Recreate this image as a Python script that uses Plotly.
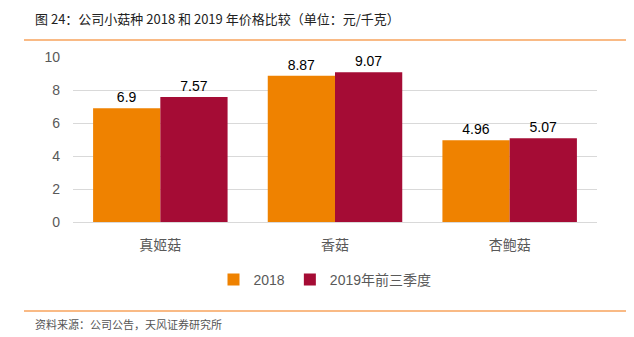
import plotly.graph_objects as go

categories = ["真姬菇", "香菇", "杏鲍菇"]
series_names = ["2018", "2019年前三季度"]
values_2018 = [6.9, 8.87, 4.96]
values_2019 = [7.57, 9.07, 5.07]
label_2018 = ["6.9", "8.87", "4.96"]
label_2019 = ["7.57", "9.07", "5.07"]
y_ticks = [0, 2, 4, 6, 8, 10]

FONT = "Liberation Sans, Arial, Noto Sans CJK SC, sans-serif"
CJK = "Noto Sans CJK SC, Liberation Sans, sans-serif"

fig = go.Figure()
fig.add_trace(go.Bar(name=series_names[0], x=categories, y=values_2018,
                     marker=dict(color="#EF8200", line=dict(width=0)),
                     text=label_2018, textposition="outside", cliponaxis=False,
                     textfont=dict(size=14, color="#000000", family=FONT)))
fig.add_trace(go.Bar(name=series_names[1], x=categories, y=values_2019,
                     marker=dict(color="#A50C35", line=dict(width=0)),
                     text=label_2019, textposition="outside", cliponaxis=False,
                     textfont=dict(size=14, color="#000000", family=FONT)))

L, R, T, B = 73, 37, 57, 115
W, H = 634, 337
pw, ph = W - L - R, H - T - B

def px(x):
    return (x - L) / pw

def py(y):
    return (H - B - y) / ph

fig.update_layout(
    width=W, height=H,
    margin=dict(l=L, r=R, t=T, b=B, pad=0),
    paper_bgcolor="white", plot_bgcolor="white",
    barmode="group", bargap=0.23, bargroupgap=0,
    font=dict(family=FONT, size=14, color="#595959"),
    showlegend=True,
    legend=dict(orientation="h", x=px(325), xanchor="center", y=py(280), yanchor="middle",
                font=dict(size=14, color="#595959", family=FONT),
                itemwidth=30, traceorder="normal", bgcolor="rgba(0,0,0,0)"),
    xaxis=dict(showgrid=False, showline=True, linecolor="#D9D9D9", linewidth=1,
               ticks="", tickfont=dict(size=14, color="#595959", family=CJK),
               ticklabelstandoff=10),
    yaxis=dict(range=[0, 10], tickvals=y_ticks, showgrid=True, gridcolor="#D9D9D9",
               gridwidth=1, zeroline=False, showline=False, ticks="",
               tickfont=dict(size=14, color="#595959", family=FONT),
               ticklabelstandoff=12),
)

fig.add_shape(type="line", xref="paper", yref="paper", x0=px(24), x1=px(626),
              y0=py(40), y1=py(40), line=dict(color="#F7A35C", width=1.5))
fig.add_shape(type="line", xref="paper", yref="paper", x0=px(24), x1=px(626),
              y0=py(311), y1=py(311), line=dict(color="#F7A35C", width=1.5))

fig.add_annotation(text="图 24：公司小菇种 2018 和 2019 年价格比较（单位：元/千克）",
                   xref="paper", yref="paper", x=px(33), y=py(18), xanchor="left",
                   yanchor="middle", showarrow=False,
                   font=dict(size=13, color="#222222", family=CJK))
fig.add_annotation(text="资料来源：公司公告，天风证券研究所",
                   xref="paper", yref="paper", x=px(33), y=py(324), xanchor="left",
                   yanchor="middle", showarrow=False,
                   font=dict(size=11, color="#555555", family=CJK))

fig.write_html("out.html")
